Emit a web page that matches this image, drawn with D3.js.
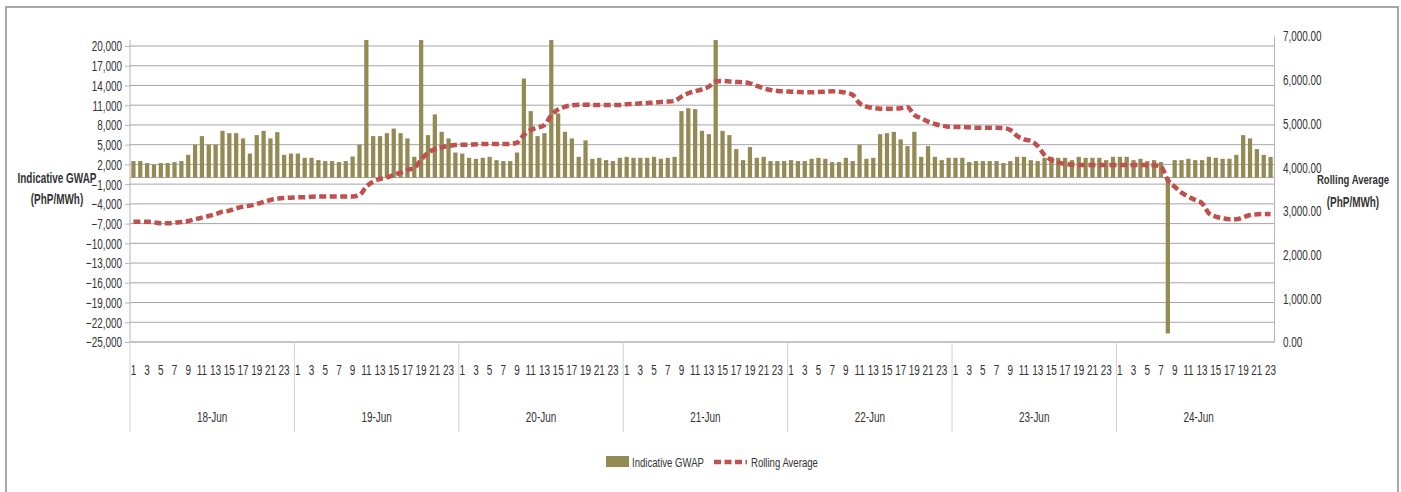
<!DOCTYPE html>
<html>
<head>
<meta charset="utf-8">
<script src="https://cdn.jsdelivr.net/npm/d3@7"></script>
<style>
  body { margin: 0; background: #fff; }
  svg text { font-family: "Liberation Sans", Arial, sans-serif; fill: #333; }
</style>
</head>
<body>
<div id="chart"></div>
<script>
// days on the category axis
var days = ["18-Jun", "19-Jun", "20-Jun", "21-Jun", "22-Jun", "23-Jun", "24-Jun"];
var hourTicks = [1, 3, 5, 7, 9, 11, 13, 15, 17, 19, 21, 23];

// Indicative GWAP per hour (PhP/MWh)
var gwap18 = [2500, 2500, 2200, 1950, 2200, 2200, 2350, 2500, 3450, 5000, 6300, 5000, 5000, 7100, 6750, 6750, 5950, 3650, 6450, 7100, 5950, 6900, 3450, 3650];
var gwap19 = [3650, 3000, 3000, 2650, 2500, 2500, 2350, 2500, 3200, 5000, 20900, 6300, 6300, 6750, 7450, 6750, 5950, 3150, 20900, 6450, 9600, 6950, 5950, 3800];
var gwap20 = [3650, 3000, 2850, 3000, 3150, 2650, 2500, 2500, 3800, 15050, 10100, 6300, 6750, 20900, 9750, 6950, 5950, 3150, 5650, 2850, 3000, 2650, 2500, 3000];
var gwap21 = [3150, 3000, 3000, 3000, 3150, 2850, 3000, 3150, 10100, 10550, 10400, 7100, 6600, 20900, 7100, 6450, 4330, 2650, 4630, 3000, 3150, 2500, 2500, 2500];
var gwap22 = [2650, 2500, 2500, 2850, 3000, 2850, 2350, 2350, 3000, 2500, 5000, 2850, 3000, 6600, 6750, 6950, 5800, 4780, 6950, 3150, 4780, 3150, 2650, 3000];
var gwap23 = [3000, 3000, 2350, 2500, 2500, 2500, 2500, 2200, 2500, 3150, 3150, 2650, 2500, 3000, 3150, 3000, 3000, 2650, 3150, 3000, 3000, 3000, 2650, 3150];
var gwap24 = [3150, 3150, 2650, 2850, 2500, 2650, 2350, -23700, 2650, 2650, 2850, 2650, 2650, 3150, 3000, 2850, 2850, 3450, 6450, 5950, 4330, 3450, 3150];

// Rolling average per hour (PhP/MWh)
var avg18 = [2753, 2753, 2750, 2738, 2715, 2715, 2730, 2745, 2768, 2807, 2844, 2883, 2928, 2981, 3004, 3058, 3096, 3119, 3157, 3203, 3249, 3279, 3294, 3302];
var avg19 = [3310, 3310, 3325, 3330, 3330, 3330, 3330, 3330, 3330, 3363, 3554, 3668, 3729, 3767, 3821, 3874, 3935, 3981, 4170, 4331, 4408, 4454, 4484, 4507];
var avg20 = [4515, 4515, 4522, 4530, 4530, 4530, 4530, 4530, 4560, 4736, 4850, 4903, 4965, 5193, 5323, 5384, 5415, 5430, 5430, 5422, 5422, 5422, 5422, 5422];
var avg21 = [5438, 5445, 5460, 5468, 5476, 5491, 5499, 5514, 5613, 5690, 5735, 5781, 5842, 5960, 5970, 5960, 5948, 5941, 5918, 5857, 5804, 5765, 5742, 5735];
var avg22 = [5727, 5720, 5712, 5712, 5720, 5727, 5735, 5727, 5705, 5651, 5460, 5384, 5354, 5338, 5338, 5338, 5346, 5369, 5193, 5118, 5041, 4987, 4949, 4926];
var avg23 = [4918, 4918, 4911, 4903, 4903, 4900, 4900, 4895, 4850, 4713, 4637, 4599, 4484, 4278, 4164, 4111, 4072, 4057, 4049, 4049, 4049, 4049, 4049, 4049];
var avg24 = [4049, 4049, 4049, 4049, 4045, 4042, 4011, 3706, 3554, 3416, 3325, 3249, 3173, 2944, 2867, 2830, 2807, 2807, 2852, 2905, 2921, 2928, 2928];

var leftTicks = [20000, 17000, 14000, 11000, 8000, 5000, 2000, -1000, -4000, -7000, -10000, -13000, -16000, -19000, -22000, -25000];
var rightTicks = [0, 1000, 2000, 3000, 4000, 5000, 6000, 7000];

var gwapByDay = [gwap18, gwap19, gwap20, gwap21, gwap22, gwap23, gwap24];
var avgByDay = [avg18, avg19, avg20, avg21, avg22, avg23, avg24];

// flatten into rows for the scales
var rows = [];
gwapByDay.forEach(function (arr, d) {
    arr.forEach(function (v, h) {
        rows.push({key: days[d] + "|" + (h + 1), day: d, hour: h + 1, gwap: v, avg: avgByDay[d][h]});
    });
});

var W = 1401, H = 492;
var plotL = 130, plotR = 1274, plotT = 36, plotB = 342;
var barColor = "#948A54", lineColor = "#C0504D", gridColor = "#a6a6a6", axisColor = "#b5b5b5";
var SQ = 0.71; // horizontal squeeze so the text looks like the narrow original font

// squeezed text at (x, y)
function label(g, x, y, txt, size, anchor, bold) {
    return g.append("text")
        .attr("x", x / SQ).attr("y", y)
        .attr("transform", "scale(" + SQ + ",1)")
        .attr("text-anchor", anchor || "start")
        .style("font-size", size + "px")
        .style("font-weight", bold ? "bold" : null)
        .text(txt);
}

var svg = d3.select("#chart").append("svg").attr("width", W).attr("height", H);

// outer frame
svg.append("rect").attr("x", 6).attr("y", 7).attr("width", 1392).attr("height", 500)
    .attr("fill", "none").attr("stroke", "#8c8c8c").attr("stroke-width", 1.5);

var x = d3.scaleBand().domain(rows.map(function (r) { return r.key; }))
    .range([plotL, plotR]).paddingInner(0.38).paddingOuter(0.19);
var yL = d3.scaleLinear().domain([-25000, 20000]).range([plotB, 46]);
var yR = d3.scaleLinear().domain([0, 7000]).range([plotB, plotT]);
var fmtL = d3.format(",");
var fmtR = d3.format(",.2f");

// gridlines
svg.append("g").selectAll("line").data(leftTicks).join("line")
    .attr("x1", plotL).attr("x2", plotR)
    .attr("y1", function (d) { return yL(d); }).attr("y2", function (d) { return yL(d); })
    .attr("stroke", gridColor).attr("stroke-width", 1);
// zero line of the bars
svg.append("line").attr("x1", plotL).attr("x2", plotR).attr("y1", yL(0)).attr("y2", yL(0))
    .attr("stroke", gridColor).attr("stroke-width", 1);

// left axis
var gL = svg.append("g").attr("transform", "translate(" + plotL + ",0)")
    .call(d3.axisLeft(yL).tickValues(leftTicks).tickFormat(fmtL).tickSizeInner(5).tickSizeOuter(0).tickPadding(3));
gL.select(".domain").attr("stroke", axisColor).attr("d", "M0,40V" + plotB);
gL.selectAll(".tick line").attr("stroke", axisColor);
gL.selectAll("text").style("font-size", "14px").attr("dy", "0.35em").attr("fill", "#333")
    .attr("x", -8 / SQ).attr("transform", "scale(" + SQ + ",1)");

// right axis (no tick marks)
var gR = svg.append("g").attr("transform", "translate(" + plotR + ",0)")
    .call(d3.axisRight(yR).tickValues(rightTicks).tickFormat(fmtR).tickSize(0).tickPadding(9));
gR.select(".domain").attr("stroke", axisColor);
gR.selectAll("text").style("font-size", "14px").attr("dy", "0.35em").attr("fill", "#333")
    .attr("x", 9 / SQ).attr("transform", "scale(" + SQ + ",1)");

// bars
svg.append("g").selectAll("rect").data(rows).join("rect")
    .attr("x", function (d) { return x(d.key); })
    .attr("width", x.bandwidth())
    .attr("y", function (d) { return Math.min(yL(d.gwap), yL(0)); })
    .attr("height", function (d) { return Math.abs(yL(d.gwap) - yL(0)); })
    .attr("fill", barColor);

// rolling average line
var line = d3.line()
    .x(function (d) { return x(d.key) + x.bandwidth() / 2; })
    .y(function (d) { return yR(d.avg); })
    .curve(d3.curveMonotoneX);
svg.append("path").datum(rows).attr("d", line)
    .attr("fill", "none").attr("stroke", lineColor).attr("stroke-width", 4.5)
    .attr("stroke-dasharray", "7,3.5");

// category axis: hours, then days
svg.append("line").attr("x1", plotL).attr("x2", plotR).attr("y1", plotB).attr("y2", plotB)
    .attr("stroke", axisColor);
var gH = svg.append("g");
rows.filter(function (r) { return hourTicks.indexOf(r.hour) >= 0; }).forEach(function (r) {
    label(gH, x(r.key) + x.bandwidth() / 2, 375, r.hour, 14, "middle");
});

var step = x.step();
var dayStart = [];
var n = 0;
gwapByDay.forEach(function (arr) { dayStart.push(n); n += arr.length; });

svg.append("g").selectAll("line").data(dayStart).join("line")
    .attr("x1", function (d) { return plotL + d * step; })
    .attr("x2", function (d) { return plotL + d * step; })
    .attr("y1", plotB).attr("y2", 432)
    .attr("stroke", "#d0d0d0");

var gD = svg.append("g");
days.forEach(function (d, i) {
    label(gD, plotL + (dayStart[i] + 12) * step, 422, d, 14, "middle");
});

// axis titles
var gT = svg.append("g");
label(gT, 57, 183, "Indicative GWAP", 14, "middle", true);
label(gT, 57, 204, "(PhP/MWh)", 14, "middle", true);
label(gT, 1353, 184, "Rolling Average", 13.5, "middle", true);
label(gT, 1353, 207, "(PhP/MWh)", 14, "middle", true);

// legend
var lg = svg.append("g");
lg.append("rect").attr("x", 606).attr("y", 456).attr("width", 23).attr("height", 11).attr("fill", barColor);
label(lg, 632, 467, "Indicative GWAP", 13.5);
lg.append("line").attr("x1", 714).attr("x2", 747).attr("y1", 462).attr("y2", 462)
    .attr("stroke", lineColor).attr("stroke-width", 4.5).attr("stroke-dasharray", "7,3.5");
label(lg, 751, 467, "Rolling Average", 13.5);
</script>
</body>
</html>
